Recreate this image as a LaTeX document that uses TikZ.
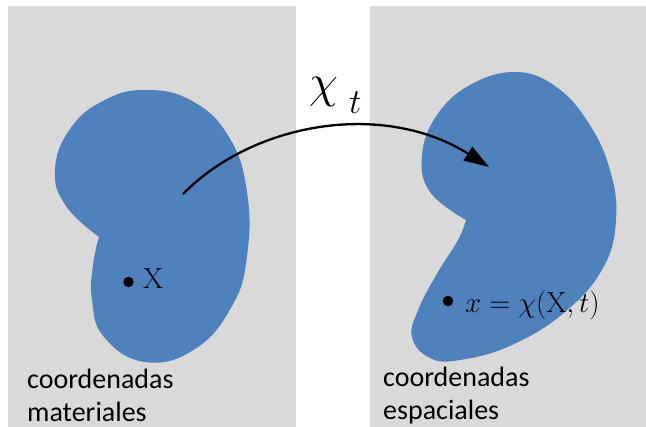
\RequirePackage{fix-cm}
\documentclass[tikz,border=0pt]{standalone}
\usepackage[no-math]{fontspec}
\setmainfont{Carlito}
\usetikzlibrary{arrows.meta}
\definecolor{bggray}{HTML}{D9D9D9}
\definecolor{blobblue}{HTML}{4F81BD}
\begin{document}
\begin{tikzpicture}[x=1pt,y=-1pt,
  panel/.style={fill=bggray,draw=none},
  blob/.style={fill=blobblue,draw=none},
  pointdot/.style={circle,fill=black,inner sep=0pt,minimum size=10.5pt},
  caption/.style={anchor=base west,inner sep=0pt,align=left,font=\fontsize{28}{33}\selectfont},
  mathlbl/.style={anchor=base west,inner sep=0pt,font=\fontsize{29}{34}\selectfont},
  maparrow/.style={line width=2.3pt,-{Triangle[length=25pt,width=16pt]}}]
\useasboundingbox (0,0) rectangle (646,427);
% panels
\path[panel] (8,6) rectangle (296,427);
\path[panel] (370,6) rectangle (646,427);
% left body
\path[blob] plot[smooth,tension=0.75] coordinates {(99,237) (93,265) (92,300) (104,337) (145,362) (195,349) (232,306) (247,256) (247,192) (229,137) (192,101) (145,90) (103,101) (70,129) (55,170) (66,206) (99,237)} -- cycle;
% right body
\path[blob] plot[smooth,tension=0.7] coordinates {(466,220) (458,240) (438,272) (419,308) (412,337) (430,358) (460,360) (512,345) (565,312) (603,268) (616,220) (610,170) (588,122) (555,86) (515,72) (470,85) (437,115) (422,155) (430,192) (466,220)} -- cycle;
% points and labels
\node[pointdot] (dotX) at (128.5,282) {};
\node[mathlbl] (labX) at (143,289) {$\mathrm{X}$};
\node[pointdot] (dotx) at (448,301) {};
\node[mathlbl] (labx) at (465,313) {$x=\chi(\mathrm{X},t)$};
% mapping arrow
\coordinate (arrowstart) at (183,194);
\coordinate (arrowend) at (489,167);
\draw[maparrow] (arrowstart) .. controls (255,121) and (385,101) .. (arrowend);
\node[anchor=base west,inner sep=0pt] (chit) at (309,98) {\fontsize{47}{50}\selectfont$\chi$\hspace{11pt}\raisebox{-16pt}{\fontsize{35}{40}\selectfont$t$}};
% captions
\node[caption] (capL) at (27,422) {coordenadas\\materiales};
\node[caption] (capR) at (383,420) {coordenadas\\espaciales};
\end{tikzpicture}
\end{document}
